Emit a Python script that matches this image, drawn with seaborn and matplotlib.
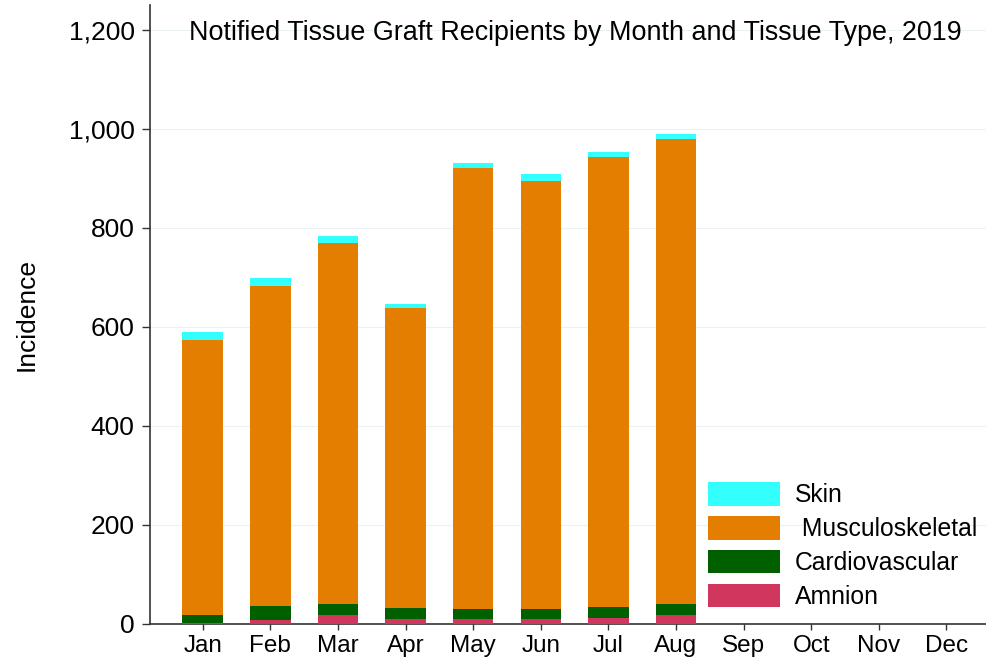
import numpy as np
import pandas as pd
import seaborn as sns
import matplotlib.pyplot as plt
from matplotlib.patches import Patch

months = ['Jan', 'Feb', 'Mar', 'Apr', 'May', 'Jun', 'Jul', 'Aug', 'Sep', 'Oct', 'Nov', 'Dec']
amnion = [1, 8, 17, 10, 10, 10, 12, 17, 0, 0, 0, 0]
cardiovascular = [16, 28, 22, 22, 20, 20, 22, 23, 0, 0, 0, 0]
musculoskeletal = [556, 646, 730, 606, 891, 865, 909, 940, 0, 0, 0, 0]
skin = [16, 16, 14, 8, 11, 13, 10, 10, 0, 0, 0, 0]

layers = ['Skin', ' Musculoskeletal', 'Cardiovascular', 'Amnion']
colors = ['#33ffff', '#e37e00', '#006000', '#d0365e']

df = pd.DataFrame({'Month': months, 'Amnion': amnion, 'Cardiovascular': cardiovascular,
                   'Musculoskeletal': musculoskeletal, 'Skin': skin})
df['c_amnion'] = df['Amnion']
df['c_cardio'] = df['c_amnion'] + df['Cardiovascular']
df['c_musc'] = df['c_cardio'] + df['Musculoskeletal']
df['c_skin'] = df['c_musc'] + df['Skin']

sns.set_style('white')
plt.rcParams['font.family'] = ['Liberation Sans', 'DejaVu Sans']
plt.rcParams['text.color'] = 'black'
plt.rcParams['axes.labelcolor'] = 'black'
plt.rcParams['xtick.color'] = 'black'
plt.rcParams['ytick.color'] = 'black'

fig, ax = plt.subplots(figsize=(9.87, 6.58), dpi=100)
fig.subplots_adjust(left=0.152, right=1.0, bottom=0.052, top=0.992)

# draw cumulative totals from top to bottom so each layer shows
for col, c in zip(['c_skin', 'c_musc', 'c_cardio', 'c_amnion'], colors):
    sns.barplot(data=df, x='Month', y=col, order=months, color=c, width=0.6,
                saturation=1, ax=ax, linewidth=0, zorder=3)

ax.set_ylim(0, 1250)
ax.set_xlim(-0.78, 11.6)
ax.set_yticks([0, 200, 400, 600, 800, 1000, 1200])
ax.set_yticklabels(['0', '200', '400', '600', '800', '1,000', '1,200'])
ax.yaxis.grid(True, color='#eaf2f3', linewidth=0.8, zorder=0)
ax.set_axisbelow(True)
ax.tick_params(axis='y', labelsize=19, length=6, width=1, pad=5, direction='out', left=True, color='#333333')
ax.tick_params(axis='x', labelsize=17.5, length=4, width=1, pad=4, direction='out', bottom=True, color='#333333')
ax.set_xlabel('')
ax.set_ylabel('Incidence', fontsize=19, labelpad=22)
for s in ['top', 'right']:
    ax.spines[s].set_visible(False)
for s in ['left', 'bottom']:
    ax.spines[s].set_color('#333333')
    ax.spines[s].set_linewidth(1.2)

ax.text(0.508, 0.955, 'Notified Tissue Graft Recipients by Month and Tissue Type, 2019',
        transform=ax.transAxes, ha='center', va='center', fontsize=19.4)

handles = [Patch(facecolor=c, edgecolor='none', label=l) for l, c in zip(layers, colors)]
ax.legend(handles=handles, loc='lower right', bbox_to_anchor=(1.006, 0.0), frameon=False,
          fontsize=17.8, handlelength=2.9, handleheight=1.1, labelspacing=0.35,
          handletextpad=0.6, borderaxespad=0.2)

fig.savefig('out.png', dpi=100)
